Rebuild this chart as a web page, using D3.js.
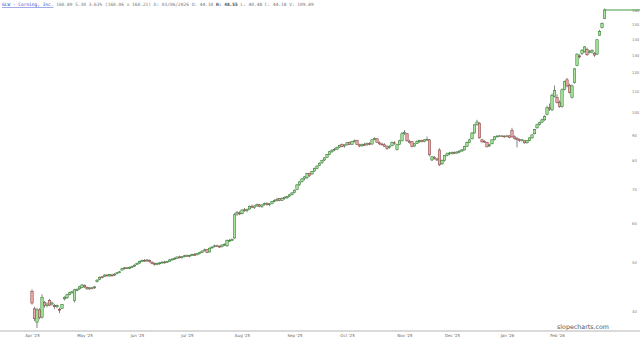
<!DOCTYPE html>
<html>
<head>
<meta charset="utf-8">
<script src="https://cdn.jsdelivr.net/npm/d3@7"></script>
<style>
body { margin: 0; background: #fff; }
svg { display: block; }
</style>
</head>
<body>
<div id="chart"></div>
<script>
// daily candles, GLW, starting 1 Apr 2025
var opens = [
  43.8,40.4,38.0,40.2,38.9,41.6,41.0,42.0,41.3,41.0,
  40.8,40.3,40.5,42.3,42.5,43.2,43.5,42.0,44.0,44.3,
  44.6,45.0,44.6,44.3,44.5,44.5,45.8,46.3,46.8,46.9,
  47.2,47.0,47.2,47.2,47.5,47.8,48.3,48.6,48.8,48.7,
  49.0,49.2,49.6,49.9,50.3,50.5,50.4,50.5,50.1,49.8,
  49.6,49.8,50.0,50.1,50.0,50.3,50.6,50.8,51.0,51.3,
  51.2,51.4,51.6,51.5,51.7,51.9,51.8,52.1,52.4,52.9,
  53.1,52.5,53.5,53.8,54.0,53.9,53.8,54.2,54.0,55.3,
  55.5,56.0,62.5,62.8,62.6,63.7,63.5,64.0,64.8,64.4,
  64.9,65.2,64.8,65.3,65.6,65.3,65.6,66.3,66.6,67.2,
  66.6,67.2,67.4,67.9,68.4,69.0,70.0,71.6,72.6,73.6,
  74.0,75.4,75.2,76.2,77.2,78.2,79.2,80.2,81.2,82.3,
  83.4,84.0,84.3,85.1,86.2,85.5,86.0,86.9,86.2,87.4,
  87.8,86.0,85.6,86.1,86.2,86.5,86.3,88.2,88.4,86.8,
  86.3,86.0,85.2,85.0,85.6,86.8,84.2,86.2,87.6,90.8,
  90.5,87.4,87.2,85.5,86.6,87.2,87.8,87.4,88.0,88.0,
  80.2,81.2,80.6,84.0,78.8,80.0,81.8,82.5,82.6,83.0,
  82.8,83.2,83.6,84.0,85.4,87.0,88.4,90.8,94.3,95.0,
  88.0,87.4,87.0,85.6,86.4,88.0,89.2,89.5,89.6,89.5,
  89.4,89.6,91.8,89.2,88.5,88.0,87.8,87.6,86.8,87.8,
  88.8,90.5,93.0,94.5,95.5,96.5,99.0,102.0,101.0,107.5,
  107.0,104.5,102.5,111.0,116.0,113.0,107.0,114.6,124.0,129.5,
  131.0,132.0,133.5,131.5,131.8,131.0,130.6,142.5,147.5,154.0
];
var highs = [
  44.2,40.8,40.6,40.5,43.2,41.9,41.6,42.3,41.8,41.3,
  41.2,40.6,41.3,42.8,43.3,43.7,43.9,44.3,44.4,44.9,
  45.3,45.2,44.8,44.6,44.7,44.9,46.3,46.9,47.0,47.4,
  47.4,47.4,47.5,47.6,47.9,48.1,48.8,49.0,49.0,49.1,
  49.3,49.6,50.0,50.4,50.7,50.8,50.8,50.7,50.3,50.0,
  50.0,50.1,50.3,50.4,50.4,50.8,51.0,51.2,51.4,51.6,
  51.5,51.8,51.9,51.8,52.1,52.2,52.3,52.5,52.9,53.3,
  53.2,53.6,53.9,54.3,54.3,54.1,54.4,54.6,55.6,55.7,
  55.9,62.8,63.4,63.3,63.9,64.3,64.1,65.0,65.3,65.0,
  65.6,65.5,65.4,65.9,66.0,65.7,66.4,66.9,67.4,67.3,
  67.5,67.8,68.0,68.6,69.2,70.0,71.8,72.8,73.8,74.5,
  75.6,75.6,76.3,77.4,78.2,79.3,80.3,81.2,82.4,83.6,
  84.2,84.8,85.3,86.0,86.5,86.2,87.1,87.2,87.6,88.1,
  88.0,86.4,86.5,86.8,86.9,87.0,88.2,89.0,88.8,87.3,
  86.9,86.6,85.9,85.8,87.3,87.4,86.4,88.0,91.2,92.0,
  90.8,88.0,87.5,86.6,87.8,88.0,88.0,88.3,89.3,88.3,
  81.6,81.6,81.0,84.6,80.4,82.0,83.0,83.2,83.4,83.4,
  83.6,83.8,84.4,85.6,87.3,88.4,91.2,94.6,96.5,95.4,
  88.4,87.8,87.2,86.4,88.2,89.5,89.9,89.9,89.9,89.8,
  90.0,89.9,93.0,89.8,89.2,88.5,88.4,87.9,88.0,89.0,
  90.2,92.5,94.8,95.6,97.0,98.5,103.0,104.0,109.0,113.0,
  108.5,105.5,111.5,115.5,117.0,114.0,113.5,122.5,131.0,130.5,
  133.5,135.5,134.5,133.0,133.5,131.8,140.0,146.0,151.0,161.0
];
var lows = [
  41.2,38.2,37.0,38.5,38.6,40.6,40.7,40.9,41.0,40.4,
  40.5,39.6,40.4,42.0,42.3,43.0,43.3,41.6,43.8,44.1,
  44.4,44.5,44.1,44.1,44.2,44.3,45.6,46.1,46.5,46.8,
  46.9,46.9,46.9,47.0,47.3,47.6,48.2,48.4,48.5,48.5,
  48.8,49.0,49.4,49.7,50.1,50.2,50.1,50.0,49.6,49.3,
  49.4,49.5,49.7,49.8,49.9,50.2,50.4,50.6,50.8,51.0,
  50.9,51.2,51.3,51.2,51.5,51.6,51.7,51.9,52.2,52.6,
  52.2,52.4,53.3,53.6,53.7,53.5,53.6,54.0,53.8,55.0,
  55.2,55.8,62.0,62.2,62.4,63.2,63.0,63.8,64.2,64.0,
  64.6,64.5,64.3,65.0,65.0,64.8,65.4,66.0,66.2,66.3,
  66.4,66.8,67.0,67.6,68.1,68.8,69.8,71.2,72.3,73.0,
  73.4,74.2,74.9,76.0,76.8,78.0,78.8,79.8,80.9,82.0,
  82.8,83.5,83.9,84.7,85.0,84.9,85.6,85.9,86.0,86.9,
  85.9,85.1,85.2,85.6,85.5,85.8,86.1,87.8,86.8,85.9,
  85.7,85.2,84.0,84.5,85.4,86.0,83.8,86.0,87.4,90.0,
  87.2,86.5,85.0,85.2,86.3,86.8,86.9,87.0,87.5,81.6,
  79.8,80.4,79.8,78.0,78.4,79.6,81.5,82.0,82.2,82.4,
  82.5,82.8,83.2,83.8,85.2,86.8,88.2,90.5,94.0,88.5,
  86.8,86.8,85.0,85.2,86.2,87.8,89.0,89.2,89.2,88.9,
  89.0,88.6,88.9,88.2,85.0,87.2,87.3,86.4,86.5,87.5,
  88.5,90.2,92.6,94.0,95.0,96.0,98.5,100.5,100.5,107.0,
  104.0,102.0,102.0,110.5,112.0,109.0,106.5,114.0,123.5,128.0,
  130.0,131.5,129.5,131.0,131.0,129.0,130.0,142.0,147.0,153.5
];
var closes = [
  41.5,38.6,40.2,38.8,42.6,41.0,41.3,41.1,41.5,40.8,
  41.0,40.2,41.2,42.6,43.1,43.5,43.7,44.1,44.2,44.7,
  45.1,44.7,44.3,44.5,44.4,44.7,46.1,46.7,46.7,47.2,
  47.1,47.3,47.1,47.4,47.7,47.9,48.6,48.8,48.7,48.9,
  49.1,49.4,49.8,50.2,50.5,50.4,50.6,50.2,49.8,49.6,
  49.8,49.9,50.1,50.0,50.2,50.6,50.8,51.0,51.3,51.2,
  51.4,51.6,51.5,51.7,51.9,51.8,52.1,52.3,52.7,53.0,
  52.4,53.4,53.7,54.0,53.9,53.7,54.2,54.4,55.3,55.4,
  55.6,62.3,63.0,62.6,63.7,63.5,63.9,64.8,64.5,64.9,
  65.3,64.8,65.2,65.6,65.3,65.5,66.2,66.6,66.9,66.5,
  67.2,67.5,67.8,68.3,68.9,69.7,71.5,72.5,73.5,74.2,
  75.3,74.6,76.0,77.1,78.0,79.0,80.0,81.0,82.2,83.3,
  83.9,84.3,85.0,85.8,85.3,85.9,86.8,86.2,87.3,87.6,
  86.2,85.5,86.2,86.0,86.5,86.1,88.0,88.6,87.0,86.4,
  86.1,85.4,84.6,85.4,87.0,86.5,86.0,87.6,90.5,91.0,
  87.6,87.0,85.3,86.4,87.4,87.8,87.3,88.0,88.2,82.1,
  81.4,80.8,80.2,78.4,80.0,81.8,82.5,82.8,83.0,82.8,
  83.2,83.6,84.0,85.3,87.0,88.0,90.8,94.3,95.5,88.8,
  87.2,87.2,85.2,86.0,88.0,89.2,89.5,89.6,89.5,89.3,
  89.6,88.9,89.2,88.6,88.0,87.8,88.0,86.8,87.8,88.8,
  90.0,92.2,94.3,95.2,96.5,98.0,102.0,101.5,108.0,110.5,
  104.5,102.5,110.8,115.0,112.8,109.5,112.8,122.0,130.6,129.0,
  133.0,135.0,130.2,132.0,132.8,130.0,139.5,145.0,150.5,160.0
];
var holidays = ["2025-04-18","2025-05-26","2025-06-19","2025-07-04","2025-09-01",
  "2025-11-27","2025-12-25","2026-01-01","2026-01-19","2026-02-16"];
var monthLabels = ["Apr '25","May '25","Jun '25","Jul '25","Aug '25","Sep '25",
  "Oct '25","Nov '25","Dec '25","Jan '26","Feb '26"];
var priceTicks = [40,50,60,70,80,90,100,110,120,130,140,150,160];

const width = 640, height = 342;

// trading days (skip weekends + market holidays)
var fmt = d3.timeFormat("%Y-%m-%d");
var dates = [];
var d = new Date(2025, 3, 1);
while (dates.length < closes.length) {
  var wd = d.getDay();
  if (wd != 0 && wd != 6 && holidays.indexOf(fmt(d)) < 0) dates.push(new Date(d));
  d = d3.timeDay.offset(d, 1);
}
var candles = dates.map(function (dt, i) {
  return { i: i, date: dt, o: opens[i], h: highs[i], l: lows[i], c: closes[i] };
});

// first trading day of each month -> tick
var monthStarts = [];
candles.forEach(function (c, i) {
  if (i == 0 || c.date.getMonth() != candles[i - 1].date.getMonth()) monthStarts.push(i);
});

var x = d3.scalePoint().domain(d3.range(candles.length)).range([32, 32 + (candles.length - 1) * 2.5]);
var y = d3.scaleLog().domain([40, 160]).range([311, 10]);

var svg = d3.select("#chart").append("svg")
  .attr("width", width).attr("height", height);

// bottom axis
var xAxis = d3.axisBottom(x)
  .tickValues(monthStarts.slice(0, monthLabels.length))
  .tickFormat(function (v, k) { return monthLabels[k]; })
  .tickSize(0).tickPadding(3);
var gx = svg.append("g").attr("transform", "translate(0,331)").call(xAxis);
gx.select(".domain").remove();
gx.selectAll("text").attr("font-size", 4).attr("fill", "#666").attr("font-family", "DejaVu Sans");
svg.append("line").attr("x1", 0).attr("x2", width).attr("y1", 331).attr("y2", 331)
  .attr("stroke", "#b5b5b5").attr("stroke-width", 1.2);

// right price axis
var yAxis = d3.axisRight(y).tickValues(priceTicks).tickFormat(d3.format("d")).tickSize(0).tickPadding(0);
var gy = svg.append("g").attr("transform", "translate(632,0)").call(yAxis);
gy.select(".domain").remove();
gy.selectAll("text").attr("font-size", 3.8).attr("fill", "#777").attr("font-family", "DejaVu Sans");

// last price line
var last = candles[candles.length - 1];
svg.append("line")
  .attr("x1", x(last.i)).attr("x2", width)
  .attr("y1", y(last.c)).attr("y2", y(last.c))
  .attr("stroke", "#3f9a3f").attr("stroke-width", 1);

// candles
var g = svg.append("g");
g.selectAll("line.wick").data(candles).enter().append("line")
  .attr("class", "wick")
  .attr("x1", function (c) { return x(c.i); })
  .attr("x2", function (c) { return x(c.i); })
  .attr("y1", function (c) { return y(c.h); })
  .attr("y2", function (c) { return y(c.l); })
  .attr("stroke", "#333").attr("stroke-width", 0.6);

g.selectAll("rect").data(candles).enter().append("rect")
  .attr("x", function (c) { return x(c.i) - 1.2; })
  .attr("width", 2.4)
  .attr("y", function (c) { return y(Math.max(c.o, c.c)); })
  .attr("height", function (c) { return Math.max(0.8, Math.abs(y(c.o) - y(c.c))); })
  .attr("fill", function (c) { return c.c >= c.o ? "#a9e89c" : "#eeaaaa"; })
  .attr("stroke", function (c) { return c.c >= c.o ? "#3a7f3a" : "#8e4c4c"; })
  .attr("stroke-width", 0.6);

// header
var title = svg.append("text").attr("x", 2).attr("y", 6)
  .attr("font-family", "DejaVu Sans Mono").attr("font-size", 4.5).attr("fill", "#777");
title.append("tspan").attr("fill", "#2e43c8").attr("text-decoration", "underline").text("GLW - Corning, Inc.");
title.append("tspan").text(" 160.89 5.30 3.63% (160.06 x 160.21) D: 03/06/2026 O:  44.10 ");
title.append("tspan").attr("font-weight", "bold").attr("fill", "#444").text("H:  48.55");
title.append("tspan").text(" L:  40.48 C:  44.18 V: 109.89");

// watermark
svg.append("text").attr("x", 583).attr("y", 329).attr("text-anchor", "middle")
  .attr("font-family", "DejaVu Sans").attr("font-size", 6.3).attr("fill", "#555")
  .text("slopecharts.com");
</script>
</body>
</html>
